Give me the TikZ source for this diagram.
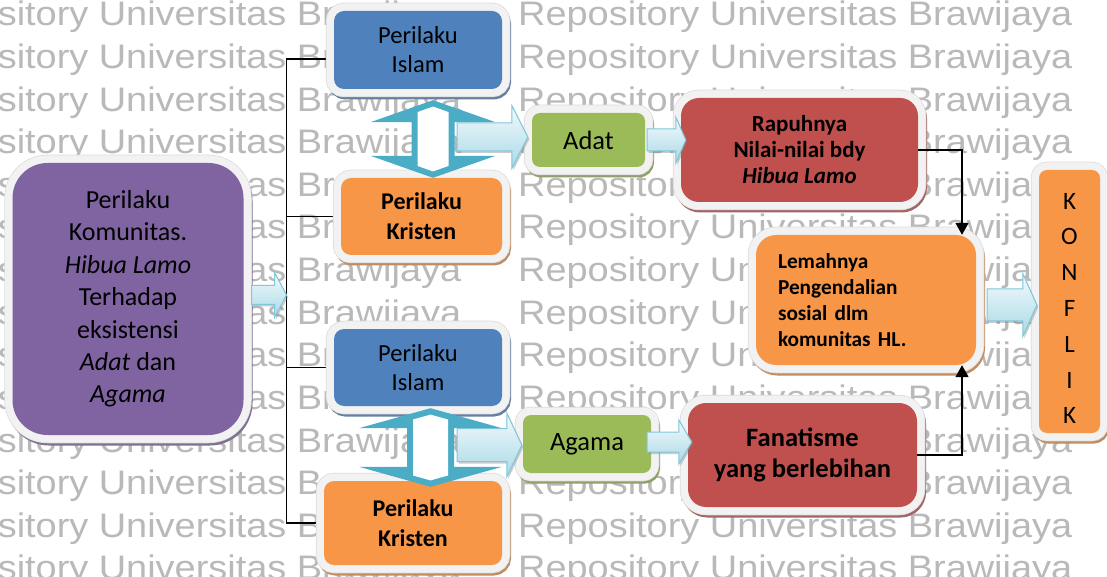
\documentclass[tikz,border=0pt]{standalone}
\usepackage{fontspec}
\setmainfont{Carlito}
\newfontfamily\wmfont{Liberation Sans}
\usetikzlibrary{calc,arrows.meta,shadows}
\pgfdeclarelayer{wm}
\pgfdeclarelayer{bg}
\pgfsetlayers{wm,bg,main}

\definecolor{cpurple}{HTML}{8064A2}
\definecolor{cblue}{HTML}{4F81BD}
\definecolor{corange}{HTML}{F79646}
\definecolor{cred}{HTML}{C0504D}
\definecolor{cgreen}{HTML}{9BBB59}
\definecolor{crim}{HTML}{F2F2F2}
\definecolor{crimedge}{HTML}{DCDCDC}
\definecolor{cteal}{HTML}{4BACC6}
\definecolor{arrtop}{HTML}{F4FAFC}
\definecolor{arrbot}{HTML}{A9D9E6}
\definecolor{arrline}{HTML}{7FC7DA}
\definecolor{wmgray}{HTML}{B9B9B9}

\tikzset{
  card/.style 2 args={shape=rectangle, fill=#1, rounded corners=#2, inner sep=0pt,
    align=center, text=black,
    preaction={draw=#1!55!gray, line width=15pt, transform canvas={shift={(1.5pt,-3pt)}}},
    preaction={draw=crimedge, line width=16.5pt},
    preaction={draw=crim, line width=15pt}},
  blockarr/.style={top color=arrtop, bottom color=arrbot, draw=arrline, line width=1pt,
    drop shadow={shadow xshift=1.5pt, shadow yshift=-2pt, fill=gray, opacity=0.4}},
  bracket/.style={line width=1.3pt, draw=black},
  conn/.style={line width=1.6pt, draw=black, -{Triangle[width=13pt,length=12pt]}},
  wmtext/.style={anchor=base west, inner sep=0pt, text=wmgray,
    font=\wmfont\fontsize{34}{34}\selectfont}
}

% horizontal block arrow: start, tip, shaft half-height, head half-height, head length
\newcommand\blockarrow[5]{%
  \path[blockarr] let \p1=(#1), \p2=(#2) in
    (\x1,\y2+#3) -- (\x2-#5,\y2+#3) -- (\x2-#5,\y2+#4) -- (\x2,\y2)
    -- (\x2-#5,\y2-#4) -- (\x2-#5,\y2-#3) -- (\x1,\y2-#3) -- cycle;}

% vertical double-headed arrow with thick teal outline
% top tip, bottom tip, wing half-width, shaft half-width, head length (numbers in pt)
\newcommand\updown[5]{%
  \path[fill=cteal] let \p1=(#1), \p2=(#2) in
    (\x1,\y1) -- (\x1-#3pt,\y1-#5pt) -- (\x1-#4pt,\y1-#5pt) -- (\x1-#4pt,\y2+#5pt)
    -- (\x1-#3pt,\y2+#5pt) -- (\x1,\y2) -- (\x1+#3pt,\y2+#5pt) -- (\x1+#4pt,\y2+#5pt)
    -- (\x1+#4pt,\y1-#5pt) -- (\x1+#3pt,\y1-#5pt) -- cycle;
  \path[fill=white] let \p1=(#1), \p2=(#2), \n1={#5*(#4-6)/#3+6.4} in
    (\x1,\y1-6.4pt) -- (\x1-#4pt+6pt,{\y1-\n1*1pt}) -- (\x1-#4pt+6pt,{\y2+\n1*1pt})
    -- (\x1,\y2+6.4pt) -- (\x1+#4pt-6pt,{\y2+\n1*1pt}) -- (\x1+#4pt-6pt,{\y1-\n1*1pt}) -- cycle;}

\begin{document}
\begin{tikzpicture}[x=1pt,y=1pt]
\useasboundingbox (0,0) rectangle (1107,576);

% repeated background lettering
\begin{pgfonlayer}{wm}
  \fill[white] (0,0) rectangle (1107,576);
  \foreach \k in {0,...,13}{
    \pgfmathsetmacro\yy{550-42.6*\k}
    \foreach \xx in {-93,518}{
      \node[wmtext] at (\xx,\yy) {\scalebox{1.115}[1]{Repository Universitas Brawijaya}};
    }}
\end{pgfonlayer}

% boxes
\node[card={cpurple}{35pt}, minimum width=231pt, minimum height=272pt,
      font=\fontsize{26}{32.4}\selectfont] (pu) at (128,277)
  {Perilaku\\Komunitas.\\\textit{Hibua Lamo}\\Terhadap\\eksistensi\\\textit{Adat} dan\\\textit{Agama}};

\node[card={cblue}{10pt}, minimum width=168pt, minimum height=78pt,
      font=\fontsize{24.5}{29}\selectfont] (b1) at (418,526) {Perilaku\\Islam};
\node[card={corange}{10pt}, minimum width=161pt, minimum height=77pt,
      font=\bfseries\fontsize{24}{30}\selectfont] (o1) at (421.5,359.5) {Perilaku\\Kristen};
\node[card={cblue}{10pt}, minimum width=168pt, minimum height=77pt,
      font=\fontsize{24.5}{29}\selectfont] (b2) at (418,208.5) {Perilaku\\Islam};
\node[card={corange}{10pt}, minimum width=178pt, minimum height=84pt,
      font=\bfseries\fontsize{24}{30}\selectfont] (o2) at (413,53) {Perilaku\\Kristen};

\node[card={cgreen}{8pt}, minimum width=113pt, minimum height=54pt,
      font=\fontsize{26.5}{30}\selectfont] (adat) at (588.5,436) {Adat};
\node[card={cgreen}{8pt}, minimum width=128pt, minimum height=58pt,
      font=\fontsize{26.5}{30}\selectfont] (agama) at (587,132) {Agama};

\node[card={cred}{18pt}, minimum width=237pt, minimum height=104pt,
      font=\bfseries\fontsize{23}{26}\selectfont] (rapuh) at (799.5,426)
  {Rapuhnya\\Nilai-nilai bdy\\\textit{Hibua Lamo}};
\node[card={cred}{18pt}, minimum width=229pt, minimum height=104pt,
      font=\bfseries\fontsize{26.5}{31}\selectfont] (fanat) at (802.5,121)
  {Fanatisme\\yang berlebihan};

\node[card={corange}{20pt}, minimum width=220pt, minimum height=130pt,
      align=left, text width=176pt,
      font=\bfseries\fontsize{21.3}{26}\selectfont] (lemah) at (866,276)
  {Lemahnya\\Pengendalian\\sosial dlm\\komunitas HL.};

\node[card={corange}{8pt}, minimum width=61pt, minimum height=263pt] (konf) at (1069.5,274.5) {};
\node[align=center, inner sep=0pt, font=\fontsize{25}{35.8}\selectfont] (konftxt)
  at ([yshift=-7pt]konf.center) {K\\O\\N\\F\\L\\I\\K};

% bracket joining the four behaviour boxes
\coordinate (brk) at (286.5,300);
\begin{pgfonlayer}{bg}
  \draw[bracket] ([yshift=-9pt]b1.west) -| (brk |- o2.west) -- (o2.west);
  \draw[bracket] (o1.west) -- (brk |- o1.west);
  \draw[bracket] (b2.west) -- (brk |- b2.west);
\end{pgfonlayer}

% two-way arrows between Islam and Kristen
\coordinate (d1t) at ([xshift=15pt,yshift=-11pt]b1.south);
\coordinate (d1b) at (d1t |- o1.north);
\updown{d1t}{d1b}{62.5}{21.5}{22}
\coordinate (d2t) at ([xshift=12.5pt,yshift=-2pt]b2.south);
\coordinate (d2b) at ($(d2t |- o2.north)+(0,-6pt)$);
\updown{d2t}{d2b}{71.5}{23.5}{20}

% block arrows
\blockarrow{$(pu.east)+(8pt,0)$}{$(pu.east -| brk)+(0,4pt)$}{9.5pt}{22.5pt}{12pt}
\blockarrow{$(d1t)+(24pt,0)$}{$(adat.west)+(-4pt,3pt)$}{14pt}{31.5pt}{16pt}
\blockarrow{$(d2t)+(26.5pt,0)$}{$(agama.west)+(-1pt,-1pt)$}{16.5pt}{32pt}{15pt}
\blockarrow{$(adat.east)+(2pt,0)$}{$(rapuh.west |- adat.east)+(5pt,0)$}{11pt}{23pt}{10pt}
\blockarrow{$(agama.east)+(-4pt,0)$}{$(fanat.west |- agama.east)+(4pt,2pt)$}{10pt}{22pt}{13pt}
\blockarrow{$(lemah.east)+(11pt,-5pt)$}{$(konf.west |- lemah.east)+(-2pt,-5pt)$}{16pt}{31.5pt}{14pt}

% connectors into the central box
\draw[conn] (rapuh.east) -| ($(lemah.north)+(96pt,0)$);
\draw[conn] (fanat.east) -| ($(lemah.south)+(96pt,0)$);
\end{tikzpicture}
\end{document}
